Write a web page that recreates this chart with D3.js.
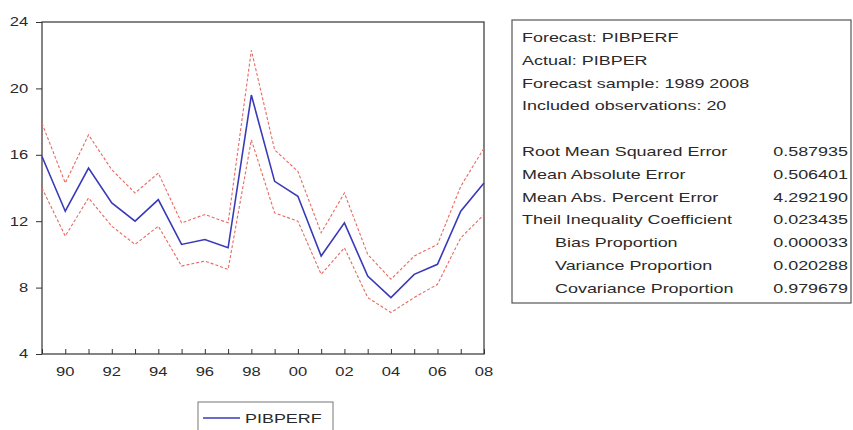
<!DOCTYPE html>
<html>
<head>
<meta charset="utf-8">
<script src="https://cdn.jsdelivr.net/npm/d3@7"></script>
<style>
  body { margin: 0; background: #fff; }
  svg { display: block; }
  text { font-family: "Liberation Sans", Arial, sans-serif; fill: #2a2a2a; }
</style>
</head>
<body>
<div id="chart"></div>
<script>
// forecast sample 1989-2008
var years = [1989, 1990, 1991, 1992, 1993, 1994, 1995, 1996, 1997, 1998,
             1999, 2000, 2001, 2002, 2003, 2004, 2005, 2006, 2007, 2008];
var forecast = [15.9, 12.6, 15.2, 13.1, 12.0, 13.3, 10.6, 10.9, 10.4, 19.6,
                14.4, 13.5, 9.9, 11.9, 8.7, 7.4, 8.8, 9.4, 12.6, 14.3];
var upper = [17.9, 14.3, 17.2, 15.1, 13.7, 14.9, 11.9, 12.4, 11.9, 22.3,
             16.3, 15.0, 11.3, 13.7, 10.0, 8.5, 9.9, 10.6, 14.1, 16.4];
var lower = [14.0, 11.1, 13.4, 11.7, 10.6, 11.7, 9.3, 9.6, 9.1, 16.9,
             12.5, 12.0, 8.8, 10.4, 7.4, 6.5, 7.4, 8.2, 11.0, 12.4];
var yTicks = [4, 8, 12, 16, 20, 24];
var xTickYears = [1990, 1992, 1994, 1996, 1998, 2000, 2002, 2004, 2006, 2008];

var headerLines = ["Forecast: PIBPERF", "Actual: PIBPER",
                   "Forecast sample: 1989 2008", "Included observations: 20"];
var statLabels = ["Root Mean Squared Error", "Mean Absolute Error",
                  "Mean Abs. Percent Error", "Theil Inequality Coefficient",
                  "Bias Proportion", "Variance Proportion", "Covariance Proportion"];
var statIndent = [false, false, false, false, true, true, true];
var statValues = ["0.587935", "0.506401", "4.292190", "0.023435",
                  "0.000033", "0.020288", "0.979679"];
var legendName = "PIBPERF";

var W = 853, H = 430;
var plot = {left: 42, right: 484, top: 22, bottom: 354};
var stretch = 1.38;

var svg = d3.select("#chart").append("svg")
    .attr("width", W)
    .attr("height", H);

var x = d3.scaleLinear()
    .domain([years[0], years[years.length - 1]])
    .range([plot.left, plot.right]);
var y = d3.scaleLinear()
    .domain([4, 24])
    .range([plot.bottom, plot.top]);

// frame
svg.append("rect")
    .attr("x", plot.left).attr("y", plot.top)
    .attr("width", plot.right - plot.left)
    .attr("height", plot.bottom - plot.top)
    .attr("fill", "none")
    .attr("stroke", "#333")
    .attr("stroke-width", 1.2);

// y axis
var yAxis = svg.append("g")
    .attr("transform", "translate(" + plot.left + ",0)")
    .call(d3.axisLeft(y).tickValues(yTicks).tickSize(6).tickPadding(4));
yAxis.select(".domain").remove();
yAxis.selectAll("line").attr("stroke", "#333");
yAxis.selectAll("text")
    .attr("x", -10)
    .attr("transform", "scale(" + stretch + ",1)")
    .style("font-size", "12px")
    .style("font-family", "Liberation Sans, Arial, sans-serif")
    .attr("fill", "#2a2a2a");

// x axis, ticks pointing up into the plot
var xAxis = svg.append("g")
    .attr("transform", "translate(0," + plot.bottom + ")")
    .call(d3.axisBottom(x).tickValues(years).tickSize(0).tickPadding(0).tickFormat(""));
xAxis.select(".domain").remove();
xAxis.selectAll(".tick").append("line")
    .attr("y1", 0).attr("y2", -5)
    .attr("stroke", "#333");

svg.append("g").selectAll("text")
    .data(xTickYears)
    .enter()
    .append("text")
    .attr("transform", function(d) { return "translate(" + x(d) + "," + (plot.bottom + 22) + ") scale(" + stretch + ",1)"; })
    .attr("text-anchor", "middle")
    .style("font-size", "12px")
    .text(function(d) { return String(d).slice(2); });

// lines
var line = d3.line()
    .x(function(d, i) { return x(years[i]); })
    .y(function(d) { return y(d); });

svg.append("path")
    .datum(upper)
    .attr("d", line)
    .attr("fill", "none")
    .attr("stroke", "#e66a62")
    .attr("stroke-width", 1.1)
    .attr("stroke-dasharray", "3,2");
svg.append("path")
    .datum(lower)
    .attr("d", line)
    .attr("fill", "none")
    .attr("stroke", "#e66a62")
    .attr("stroke-width", 1.1)
    .attr("stroke-dasharray", "3,2");
svg.append("path")
    .datum(forecast)
    .attr("d", line)
    .attr("fill", "none")
    .attr("stroke", "#3a3ab8")
    .attr("stroke-width", 1.6);

// stats box
var box = {x: 512, y: 20, w: 339, h: 283};
svg.append("rect")
    .attr("x", box.x).attr("y", box.y)
    .attr("width", box.w).attr("height", box.h)
    .attr("fill", "none")
    .attr("stroke", "#555")
    .attr("stroke-width", 1.2);

var lineH = 22.8;
var firstY = 42;
var boxText = svg.append("g");
headerLines.forEach(function(t, i) {
    boxText.append("text")
        .attr("transform", "translate(522," + (firstY + i * lineH) + ") scale(" + stretch + ",1)")
        .style("font-size", "13px")
        .text(t);
});
statLabels.forEach(function(t, i) {
    var yy = firstY + (i + 5) * lineH;
    boxText.append("text")
        .attr("transform", "translate(" + (statIndent[i] ? 555 : 522) + "," + yy + ") scale(" + stretch + ",1)")
        .style("font-size", "13px")
        .text(t);
    boxText.append("text")
        .attr("transform", "translate(848," + yy + ") scale(" + stretch + ",1)")
        .attr("text-anchor", "end")
        .style("font-size", "13px")
        .text(statValues[i]);
});

// legend
var leg = svg.append("g").attr("transform", "translate(198,402)");
leg.append("rect")
    .attr("width", 135).attr("height", 34)
    .attr("fill", "none")
    .attr("stroke", "#777");
leg.append("line")
    .attr("x1", 5).attr("x2", 42)
    .attr("y1", 16).attr("y2", 16)
    .attr("stroke", "#3a3ab8")
    .attr("stroke-width", 1.6);
leg.append("text")
    .attr("transform", "translate(47,21) scale(" + stretch + ",1)")
    .style("font-size", "13px")
    .text(legendName);
</script>
</body>
</html>
